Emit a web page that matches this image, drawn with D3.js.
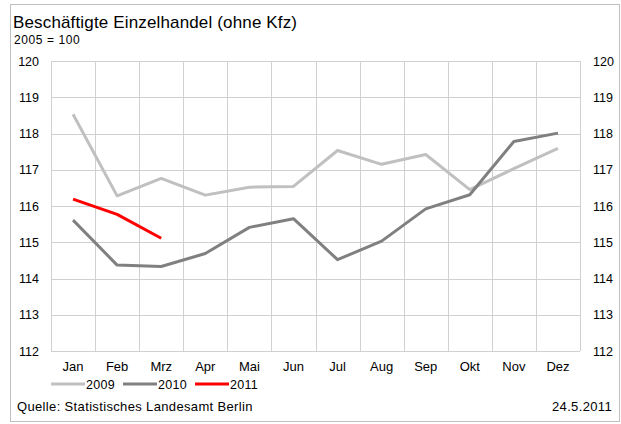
<!DOCTYPE html>
<html>
<head>
<meta charset="utf-8">
<script src="https://cdn.jsdelivr.net/npm/d3@7"></script>
<style>
  body { margin: 0; background: #fff; }
  svg { display: block; font-family: "Liberation Sans", Arial, sans-serif; }
</style>
</head>
<body>
<svg id="chart" width="621" height="424"></svg>
<script>
// Monatsnamen und Indexwerte (2005 = 100)
const months = ["Jan", "Feb", "Mrz", "Apr", "Mai", "Jun", "Jul", "Aug", "Sep", "Okt", "Nov", "Dez"];
const values2009 = [118.53, 116.28, 116.76, 116.30, 116.52, 116.54, 117.53, 117.15, 117.42, 116.45, 117.03, 117.59];
const values2010 = [115.61, 114.37, 114.33, 114.69, 115.41, 115.65, 114.52, 115.03, 115.92, 116.31, 117.78, 118.01];
const values2011 = [116.19, 115.77, 115.11];
const yTicks = [112, 113, 114, 115, 116, 117, 118, 119, 120];
const seriesNames = ["2009", "2010", "2011"];
const seriesColors = ["#c0c0c0", "#808080", "#ff0000"];

const svg = d3.select("#chart");
const plot = { left: 51, right: 580, top: 61, bottom: 351 };

// Rahmen um die gesamte Grafik
svg.append("rect")
  .attr("x", 10.5).attr("y", 4.5)
  .attr("width", 609).attr("height", 417)
  .attr("fill", "#fff").attr("stroke", "#c0c0c0").attr("stroke-width", 1);

const x = d3.scaleBand().domain(months).range([plot.left, plot.right]).padding(0);
const y = d3.scaleLinear().domain([112, 120]).range([plot.bottom, plot.top]);

// Gitternetz
const grid = svg.append("g").attr("stroke", "#d0d0d0").attr("stroke-width", 1);
yTicks.forEach(t => {
  grid.append("line")
    .attr("x1", plot.left).attr("x2", plot.right)
    .attr("y1", Math.round(y(t)) + 0.5).attr("y2", Math.round(y(t)) + 0.5);
});
months.forEach(m => {
  const xx = Math.round(x(m)) + 0.5;
  grid.append("line").attr("x1", xx).attr("x2", xx).attr("y1", plot.top).attr("y2", plot.bottom);
});
grid.append("line")
  .attr("x1", Math.round(plot.right) + 0.5).attr("x2", Math.round(plot.right) + 0.5)
  .attr("y1", plot.top).attr("y2", plot.bottom);

// Achsen links und rechts
const axisLeft = d3.axisLeft(y).tickValues(yTicks).tickSize(0).tickPadding(12);
const axisRight = d3.axisRight(y).tickValues(yTicks).tickSize(0).tickPadding(13);
const gl = svg.append("g").attr("transform", `translate(${plot.left},0)`).call(axisLeft);
const gr = svg.append("g").attr("transform", `translate(${plot.right},0)`).call(axisRight);
[gl, gr].forEach(g => {
  g.select(".domain").remove();
  g.selectAll("text").attr("font-size", 12.5).attr("fill", "#000")
    .attr("font-family", "Liberation Sans, Arial, sans-serif");
});

// Monatsbeschriftung
const gx = svg.append("g").attr("transform", `translate(0,${plot.bottom})`)
  .call(d3.axisBottom(x).tickSize(0).tickPadding(11));
gx.select(".domain").remove();
gx.selectAll("text").attr("font-size", 13).attr("fill", "#000")
  .attr("font-family", "Liberation Sans, Arial, sans-serif");

// Linien
const line = d3.line()
  .x((d, i) => x(months[i]) + x.bandwidth() / 2)
  .y(d => y(d));
[values2009, values2010, values2011].forEach((vals, k) => {
  svg.append("path")
    .datum(vals)
    .attr("fill", "none")
    .attr("stroke", seriesColors[k])
    .attr("stroke-width", 3)
    .attr("stroke-linejoin", "round")
    .attr("d", line);
});

// Titel
svg.append("text").attr("x", 13).attr("y", 28)
  .attr("font-size", 17).attr("letter-spacing", 0.15).attr("fill", "#000")
  .text("Beschäftigte Einzelhandel (ohne Kfz)");
svg.append("text").attr("x", 14).attr("y", 44)
  .attr("font-size", 12).attr("letter-spacing", 0.6).attr("fill", "#000")
  .text("2005 = 100");

// Legende
const legendX = [51, 123, 195];
seriesNames.forEach((name, k) => {
  const lg = svg.append("g").attr("transform", `translate(${legendX[k]},384)`);
  lg.append("line").attr("x1", 0).attr("x2", 34).attr("y1", 0).attr("y2", 0)
    .attr("stroke", seriesColors[k]).attr("stroke-width", 3);
  lg.append("text").attr("x", 35).attr("y", 4.5)
    .attr("font-size", 12.5).attr("letter-spacing", 0.3).attr("fill", "#000").text(name);
});

// Quelle und Datum
svg.append("text").attr("x", 17).attr("y", 411)
  .attr("font-size", 13).attr("letter-spacing", 0.35).attr("fill", "#000")
  .text("Quelle: Statistisches Landesamt Berlin");
svg.append("text").attr("x", 612).attr("y", 411)
  .attr("font-size", 13).attr("letter-spacing", 0.35).attr("fill", "#000").attr("text-anchor", "end")
  .text("24.5.2011");
</script>
</body>
</html>
